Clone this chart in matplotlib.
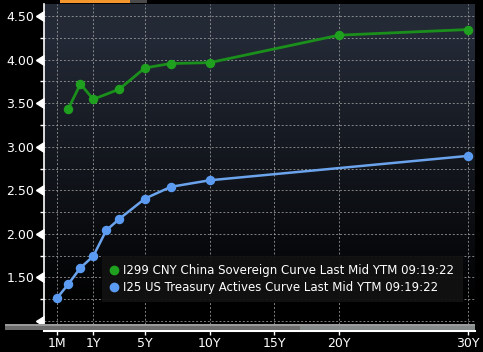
import numpy as np
import matplotlib
matplotlib.use('Agg')
from matplotlib import pyplot as plt
from matplotlib.lines import Line2D
from matplotlib.patches import Rectangle

plt.rcParams.update({'font.family': 'DejaVu Sans', 'font.size': 8.5})

# tenors in years
cn_tenor = [0.25, 0.5, 1, 3, 5, 7, 10, 20, 30]
cn_yield = [3.43, 3.72, 3.545, 3.66, 3.905, 3.955, 3.965, 4.28, 4.345]
us_tenor = [1/12, 0.25, 0.5, 1, 2, 3, 5, 7, 10, 30]
us_yield = [1.265, 1.42, 1.61, 1.745, 2.04, 2.17, 2.405, 2.54, 2.615, 2.895]

xtick_vals = [1/12, 1, 5, 10, 15, 20, 30]
xtick_labels = ['1M', '1Y', '5Y', '10Y', '15Y', '20Y', '30Y']
ytick_major = [1.0, 1.5, 2.0, 2.5, 3.0, 3.5, 4.0, 4.5]
ytick_labels = ['', '1.50', '2.00', '2.50', '3.00', '3.50', '4.00', '4.50']
ytick_minor = [1.25, 1.75, 2.25, 2.75, 3.25, 3.75, 4.25]

cn_label = 'I299 CNY China Sovereign Curve Last Mid YTM 09:19:22'
us_label = 'I25 US Treasury Actives Curve Last Mid YTM 09:19:22'

# bloomberg style axis: short end squeezed, linear from 1Y on
knot_t = [1/12, 0.25, 0.5, 1]
knot_p = [-1.8, -0.95, 0.0, 1.0]

def fwd(t):
  t = np.asarray(t, dtype=float)
  lo = knot_p[0] + (t - knot_t[0]) * 6
  mid = np.interp(t, knot_t, knot_p)
  return np.where(t >= 1, t, np.where(t < knot_t[0], lo, mid))

def inv(p):
  p = np.asarray(p, dtype=float)
  lo = knot_t[0] + (p - knot_p[0]) / 6
  mid = np.interp(p, knot_p, knot_t)
  return np.where(p >= 1, p, np.where(p < knot_p[0], lo, mid))

W, H = 483, 352
fig = plt.figure(figsize=(W / 100, H / 100), dpi=100, facecolor='black')
ax = fig.add_axes([44 / W, 1 - 324 / H, 431 / W, 320 / H])
ax.set_facecolor('black')
ax.set_xscale('function', functions=(fwd, inv))
ax.set_xlim(inv(-2.815), 30.54)
ax.set_ylim(0.966, 4.638)

# background gradient navy -> black
grad = np.linspace(0, 1, 256)
cols = np.zeros((256, 1, 3))
top = np.array([0.14, 0.165, 0.215])
for i in range(3):
  cols[:, 0, i] = top[i] * np.clip(grad * 1.15 - 0.05, 0, 1)
ax.imshow(cols, extent=[0, 1, 0, 1], transform=ax.transAxes, aspect='auto',
          origin='lower', zorder=0)

# grid
ax.set_xticks(xtick_vals)
ax.set_xticklabels(xtick_labels)
ax.set_yticks(ytick_major)
ax.set_yticklabels(ytick_labels)
ax.set_yticks(ytick_minor, minor=True)
ax.grid(True, which='both', color='#a0a0a0', linestyle=(0, (2, 2)), linewidth=0.7, alpha=0.8)
ax.set_axisbelow(True)

for s in ['top', 'right']:
  ax.spines[s].set_visible(False)
ax.spines['left'].set_color('white')
ax.spines['left'].set_linewidth(1.2)
ax.spines['bottom'].set_color('white')
ax.spines['bottom'].set_linewidth(1.5)
ax.spines['bottom'].set_position(('outward', 5.2))

ax.tick_params(axis='y', which='major', length=0, pad=7, colors='white', labelsize=9)
ax.tick_params(axis='y', which='minor', length=3, width=1, colors='white', direction='out')
ax.tick_params(axis='x', which='major', length=3, width=1, colors='white', pad=1, labelsize=9)

# triangular major ticks pointing left, base on the axis
ax.plot([0] * len(ytick_major), ytick_major, linestyle='none', marker=8, markersize=7.5,
        color='white', transform=ax.get_yaxis_transform(), clip_on=False, zorder=5)

# curves
ax.plot(cn_tenor, cn_yield, color='#1b8f1b', linewidth=2, marker='o', markersize=5.8,
        markerfacecolor='#1fa01f', markeredgecolor='#1fa01f', zorder=3)
ax.plot(us_tenor, us_yield, color='#6ba3ec', linewidth=1.8, marker='o', markersize=5.8,
        markerfacecolor='#5b9cf2', markeredgecolor='#5b9cf2', zorder=3)

handles = [
  Line2D([], [], linestyle='none', marker='o', markersize=6, color='#1fa01f'),
  Line2D([], [], linestyle='none', marker='o', markersize=6, color='#5b9cf2'),
]
leg = ax.legend(handles, [cn_label, us_label], loc='lower left', bbox_to_anchor=(0.1346, 0.069),
                borderaxespad=0, frameon=True, fancybox=False, facecolor='#111111', edgecolor='none',
                framealpha=0.95, handlelength=0.6, handletextpad=0.5, borderpad=0.7,
                labelspacing=0.3, fontsize=8.5)
for t in leg.get_texts():
  t.set_color('white')
leg.set_zorder(6)

# scrollbar under the plot
fig.patches.append(Rectangle((5 / W, 1 - 330 / H), 295 / W, 6 / H, transform=fig.transFigure,
                             facecolor='#6c6c6c', edgecolor='none'))
fig.patches.append(Rectangle((300 / W, 1 - 330 / H), 175 / W, 6 / H, transform=fig.transFigure,
                             facecolor='#858b8b', edgecolor='none'))
fig.patches.append(Rectangle((5 / W, 1 - 325.5 / H), 470 / W, 1.5 / H, transform=fig.transFigure,
                             facecolor='#9a9a9a', edgecolor='none'))

# tab remnants at the very top
fig.patches.append(Rectangle((60 / W, 1 - 3 / H), 70 / W, 3 / H, transform=fig.transFigure,
                             facecolor='#f3962e', edgecolor='none'))
fig.patches.append(Rectangle((130 / W, 1 - 3 / H), 17 / W, 3 / H, transform=fig.transFigure,
                             facecolor='#4b4b4b', edgecolor='none'))

fig.savefig('out.png', dpi=100, facecolor='black')
